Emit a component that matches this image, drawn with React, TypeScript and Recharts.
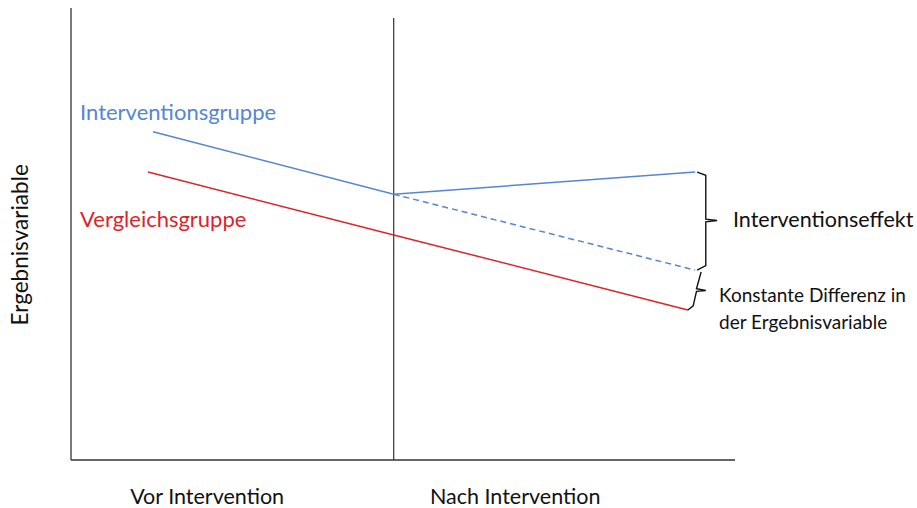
import {
  LineChart,
  Line,
  XAxis,
  YAxis,
  ReferenceLine,
  ReferenceDot,
  Label,
} from "recharts";

// Zeitachse 0..100, Ergebnis 0..100 (abstrakte Einheiten)
const PERIOD_TICKS = [20.5, 66.9];
const PERIOD_LABELS = ["Vor Intervention", "Nach Intervention"];
const INTERVENTION_X = 48.6;
const INTERVENTION_TOP = 97.8;

const interventionGroup = [
  { x: 12.35, y: 72.6 },
  { x: 48.6, y: 58.8 },
  { x: 94.0, y: 63.7 },
];

const counterfactual = [
  { x: 48.6, y: 58.8 },
  { x: 94.0, y: 42.0 },
];

const comparisonGroup = [
  { x: 11.6, y: 63.7 },
  { x: 48.6, y: 49.8 },
  { x: 92.9, y: 33.2 },
];

const effectBrace = [
  { x: 94.3, y: 63.7 },
  { x: 95.6, y: 63.0 },
  { x: 95.6, y: 53.3 },
  { x: 97.3, y: 53.0 },
  { x: 95.6, y: 52.7 },
  { x: 95.6, y: 43.0 },
  { x: 94.3, y: 42.0 },
];

const diffBrace = [
  { x: 94.9, y: 41.6 },
  { x: 94.2, y: 37.9 },
  { x: 95.6, y: 37.5 },
  { x: 94.2, y: 37.3 },
  { x: 93.7, y: 34.1 },
  { x: 92.9, y: 33.2 },
];

const BLUE = "#5585D6";
const RED = "#D7262B";
const AXIS = "#333";
const FONT = "Lato, 'Open Sans', sans-serif";

const annotations = [
  { x: 1.36, y: 77.2, text: "Interventionsgruppe", color: BLUE, size: 22 },
  { x: 1.36, y: 53.5, text: "Vergleichsgruppe", color: RED, size: 22 },
  { x: 99.7, y: 53.3, text: "Interventionseffekt", color: "#111", size: 21.5 },
  { x: 97.6, y: 36.7, text: "Konstante Differenz in", color: "#111", size: 19 },
  { x: 97.6, y: 30.75, text: "der Ergebnisvariable", color: "#111", size: 19 },
];

function PeriodTick(props: any) {
  const { x, y, index } = props;
  return (
    <text
      x={x}
      y={y + 36}
      textAnchor="middle"
      dominantBaseline="central"
      fontFamily={FONT}
      fontSize={21.5}
      fill="#111"
    >
      {PERIOD_LABELS[index]}
    </text>
  );
}

export default function App() {
  return (
    <div style={{ position: "absolute", left: 0, top: 0, background: "#fff" }}>
      <LineChart
        width={917}
        height={508}
        margin={{ top: 8, right: 182, bottom: 0, left: 0 }}
      >
        <XAxis
          type="number"
          dataKey="x"
          domain={[0, 100]}
          ticks={PERIOD_TICKS}
          tick={<PeriodTick />}
          tickLine={false}
          tickSize={0}
          tickMargin={0}
          height={48}
          stroke={AXIS}
          strokeWidth={1.3}
          allowDataOverflow
        />
        <YAxis
          type="number"
          dataKey="y"
          domain={[0, 100]}
          width={71}
          tick={false}
          tickLine={false}
          stroke={AXIS}
          strokeWidth={1.3}
          allowDataOverflow
        >
          <Label
            content={(p: any) => {
              const vb = p.viewBox;
              const cx = vb.x + 20;
              const cy = vb.y + vb.height * 0.524;
              return (
                <text
                  x={cx}
                  y={cy}
                  transform={`rotate(-90 ${cx} ${cy})`}
                  textAnchor="middle"
                  dominantBaseline="central"
                  fontFamily={FONT}
                  fontSize={22.5}
                  fill="#111"
                >
                  Ergebnisvariable
                </text>
              );
            }}
          />
        </YAxis>

        <ReferenceLine
          segment={[
            { x: INTERVENTION_X, y: 0 },
            { x: INTERVENTION_X, y: INTERVENTION_TOP },
          ]}
          stroke={AXIS}
          strokeWidth={1.2}
        />

        <Line
          data={interventionGroup}
          dataKey="y"
          stroke={BLUE}
          strokeWidth={1.5}
          dot={false}
          isAnimationActive={false}
        />
        <Line
          data={counterfactual}
          dataKey="y"
          stroke={BLUE}
          strokeWidth={1.5}
          strokeDasharray="6 4"
          dot={false}
          isAnimationActive={false}
        />
        <Line
          data={comparisonGroup}
          dataKey="y"
          stroke={RED}
          strokeWidth={1.5}
          dot={false}
          isAnimationActive={false}
        />
        <Line
          data={effectBrace}
          dataKey="y"
          stroke="#111"
          strokeWidth={1.4}
          dot={false}
          isAnimationActive={false}
        />
        <Line
          data={diffBrace}
          dataKey="y"
          stroke="#111"
          strokeWidth={1.4}
          dot={false}
          isAnimationActive={false}
        />

        {annotations.map((a) => (
          <ReferenceDot
            key={a.text}
            x={a.x}
            y={a.y}
            r={0}
            fill="none"
            stroke="none"
            ifOverflow="visible"
          >
            <Label
              content={(p: any) => {
                const vb = p.viewBox || {};
                return (
                  <text
                    x={vb.x}
                    y={vb.y}
                    textAnchor="start"
                    dominantBaseline="central"
                    fontFamily={FONT}
                    fontSize={a.size}
                    fill={a.color}
                  >
                    {a.text}
                  </text>
                );
              }}
            />
          </ReferenceDot>
        ))}
      </LineChart>
    </div>
  );
}
